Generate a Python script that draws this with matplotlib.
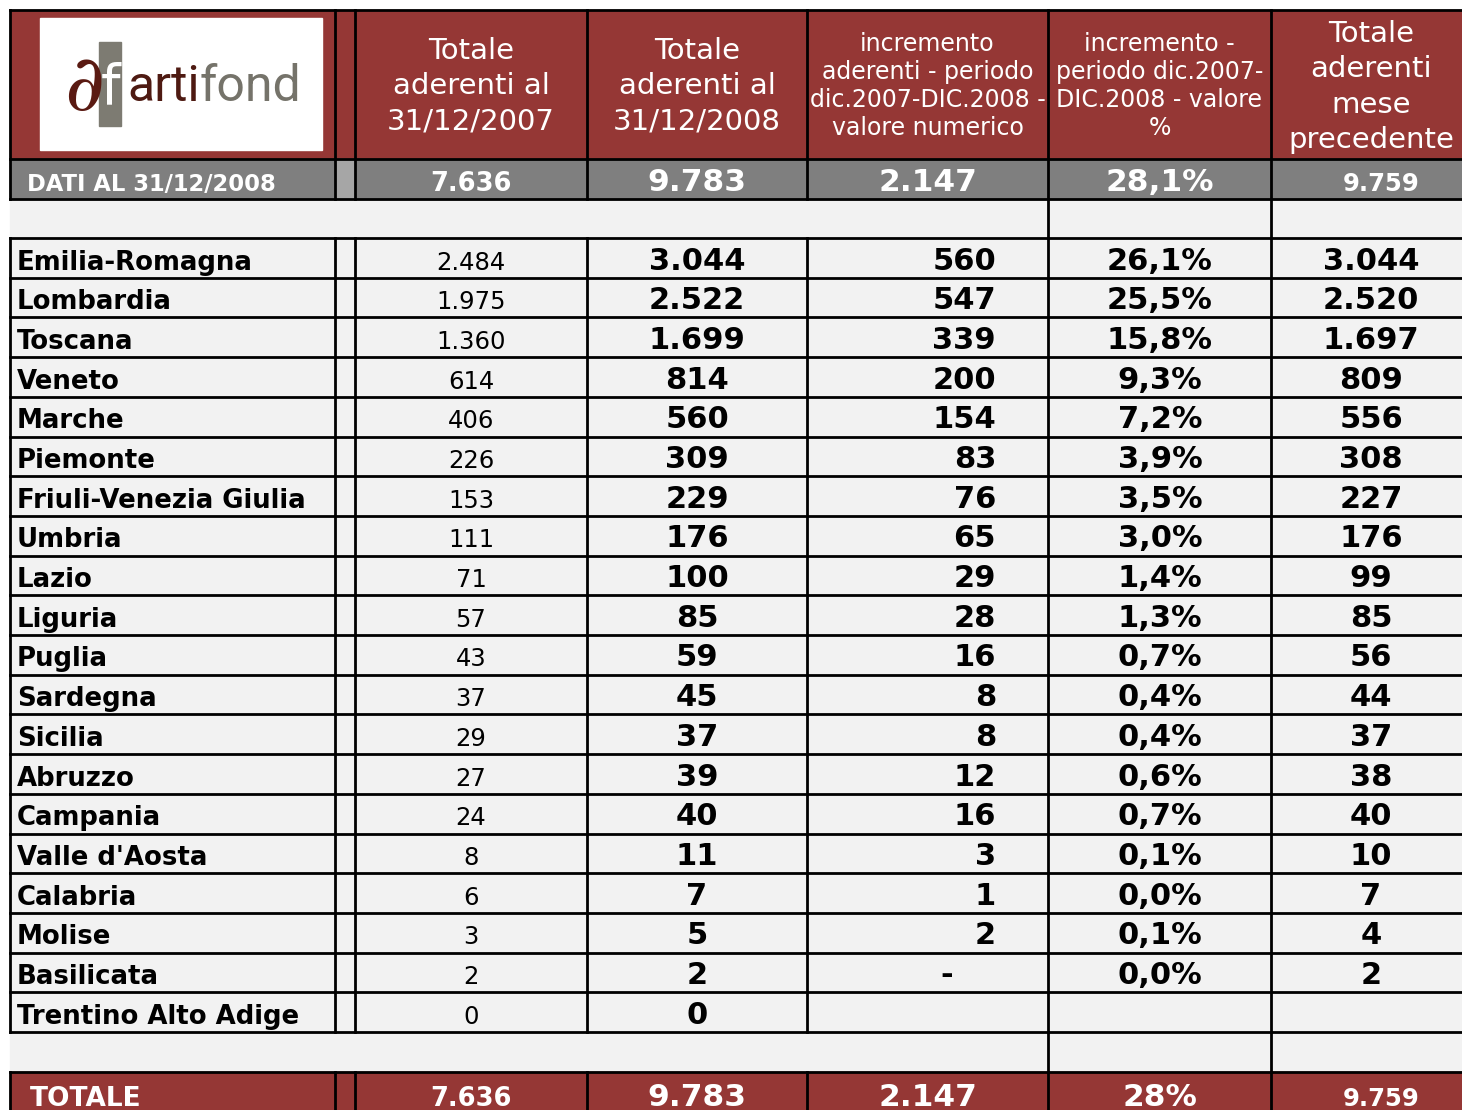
import matplotlib
matplotlib.use('Agg')
import matplotlib.pyplot as plt
from matplotlib.patches import Rectangle

# ---------------- data ----------------
regions = ["Emilia-Romagna", "Lombardia", "Toscana", "Veneto", "Marche", "Piemonte",
           "Friuli-Venezia Giulia", "Umbria", "Lazio", "Liguria", "Puglia", "Sardegna",
           "Sicilia", "Abruzzo", "Campania", "Valle d'Aosta", "Calabria", "Molise",
           "Basilicata", "Trentino Alto Adige"]
aderenti_2007 = [2484, 1975, 1360, 614, 406, 226, 153, 111, 71, 57, 43, 37, 29, 27, 24, 8, 6, 3, 2, 0]
aderenti_2008 = [3044, 2522, 1699, 814, 560, 309, 229, 176, 100, 85, 59, 45, 37, 39, 40, 11, 7, 5, 2, 0]
incremento_num = [560, 547, 339, 200, 154, 83, 76, 65, 29, 28, 16, 8, 8, 12, 16, 3, 1, 2, 0, None]
incremento_pct = [26.1, 25.5, 15.8, 9.3, 7.2, 3.9, 3.5, 3.0, 1.4, 1.3, 0.7, 0.4, 0.4, 0.6, 0.7,
                  0.1, 0.0, 0.1, 0.0, None]
mese_precedente = [3044, 2520, 1697, 809, 556, 308, 227, 176, 99, 85, 56, 44, 37, 38, 40, 10, 7, 4, 2, None]

headers = ["Totale\naderenti al\n31/12/2007",
           "Totale\naderenti al\n31/12/2008",
           "incremento\naderenti - periodo\ndic.2007-DIC.2008 -\nvalore numerico",
           "incremento -\nperiodo dic.2007-\nDIC.2008 - valore\n%",
           "Totale\naderenti\nmese\nprecedente"]
summary_label = "DATI AL 31/12/2008"
summary_values = [7636, 9783, 2147, 28.1, 9759]
total_label = "TOTALE"
total_values = [7636, 9783, 2147, 28, 9759]


def fmt_int(v):
    return f"{v:,}".replace(",", ".")


def fmt_pct(v, dec=1):
    return (f"{v:.{dec}f}%").replace(".", ",")


# ---------------- layout ----------------
W, H = 1462, 1110
fig = plt.figure(figsize=(W / 100, H / 100), dpi=100)
ax = fig.add_axes([0, 0, 1, 1])
ax.set_xlim(0, W)
ax.set_ylim(H, 0)
ax.axis('off')

RED = '#953735'
GRAY = '#7F7F7F'
LGRAY = '#A6A6A6'
BG = '#F2F2F2'
FONT = 'DejaVu Sans'

col_x = [10, 335, 355, 587, 807, 1048, 1271, 1480]
head_top, head_bot = 10, 159
gray_bot = 199
data_top = 238
n = len(regions)
row_h = (1032 - data_top) / n
data_bot = data_top + n * row_h
tot_top = 1072
tot_bot = 1120
LW = 2.0

# backgrounds
ax.add_patch(Rectangle((col_x[0], head_top), col_x[-1] - col_x[0], tot_bot - head_top, color=BG, zorder=0))
ax.add_patch(Rectangle((col_x[0], head_top), col_x[-1] - col_x[0], head_bot - head_top, color=RED, zorder=1))
ax.add_patch(Rectangle((col_x[0], head_bot), col_x[-1] - col_x[0], gray_bot - head_bot, color=GRAY, zorder=1))
ax.add_patch(Rectangle((col_x[1], head_bot), col_x[2] - col_x[1], gray_bot - head_bot, color=LGRAY, zorder=1))
ax.add_patch(Rectangle((col_x[0], tot_top), col_x[-1] - col_x[0], tot_bot - tot_top, color=RED, zorder=1))

# logo
ax.add_patch(Rectangle((40, 18), 282, 132, color='white', zorder=2))
ax.add_patch(Rectangle((99, 42), 22, 84, color='#7d7b72', zorder=3))
ax.text(111, 88, "f", color='white', fontsize=40, fontfamily='DejaVu Sans',
        ha='center', va='center', zorder=4)
ax.text(84, 88, "\u2202", color='#5a1a12', fontsize=56, fontfamily='DejaVu Serif', style='italic',
        ha='center', va='center', zorder=5)
t_arti = ax.text(127, 101, "arti", color='#4e1a12', fontsize=36, fontfamily='Roboto',
                 ha='left', va='baseline', zorder=4)
ax.annotate("fond", xy=(1, 0), xycoords=t_arti, color='#75736a', fontsize=36, fontfamily='Roboto',
            ha='left', va='bottom', zorder=4)


# grid lines
def hline(y, x0=col_x[0], x1=col_x[-1]):
    ax.plot([x0, x1], [y, y], color='black', lw=LW, solid_capstyle='projecting', zorder=6)


def vline(x, y0, y1):
    ax.plot([x, x], [y0, y1], color='black', lw=LW, solid_capstyle='projecting', zorder=6)


hline(head_top)
hline(head_bot)
hline(gray_bot)
for i in range(n + 1):
    hline(data_top + i * row_h)
hline(tot_top)
for x in col_x[:-1]:
    vline(x, head_top, gray_bot)
    vline(x, data_top, data_bot)
    vline(x, tot_top, tot_bot)
for x in (col_x[5], col_x[6]):
    vline(x, gray_bot, data_top)
    vline(x, data_bot, tot_top)

# headers
head_cx = [(col_x[i] + col_x[i + 1]) / 2 for i in range(2, 7)]
head_cx[4] = 1371
head_sizes = [21, 21, 17, 17, 21]
head_ls = [1.32, 1.32, 1.22, 1.22, 1.32]
head_cy = [86, 86, 86, 86, 87]
for j, txt in enumerate(headers):
    t = ax.text(head_cx[j], head_cy[j], txt, color='white', fontsize=head_sizes[j], fontfamily=FONT,
                ha='center', va='center', multialignment='center', linespacing=head_ls[j], zorder=7)
    clip = Rectangle((col_x[j + 2], head_top), col_x[j + 3] - col_x[j + 2], head_bot - head_top,
                     transform=ax.transData)
    t.set_clip_path(clip)

# summary (gray) row
val_cx = [471, 697, 928, 1160, 1381]
sum_sizes = [18.5, 22.5, 22.5, 22.5, 17.5]
ax.text(27, 191, summary_label, color='white', fontsize=16.3, fontweight='bold', fontfamily=FONT,
        ha='left', va='baseline', zorder=7)
for j, v in enumerate(summary_values):
    s = fmt_pct(v) if j == 3 else fmt_int(v)
    ax.text(val_cx[j], 191, s, color='white', fontsize=sum_sizes[j], fontweight='bold', fontfamily=FONT,
            ha='center', va='baseline', zorder=7)

# data rows
BOLD = 22
for i in range(n):
    yb = data_top + i * row_h + 31.5
    ax.text(17, yb, regions[i], fontsize=18.7, fontweight='bold', fontfamily=FONT,
            ha='left', va='baseline', zorder=7)
    ax.text(471, yb, fmt_int(aderenti_2007[i]), fontsize=17.5, fontfamily=FONT,
            ha='center', va='baseline', zorder=7)
    ax.text(697, yb, fmt_int(aderenti_2008[i]), fontsize=BOLD, fontweight='bold', fontfamily=FONT,
            ha='center', va='baseline', zorder=7)
    v = incremento_num[i]
    if v is not None:
        if v == 0:
            ax.text(947, yb, "-", fontsize=BOLD, fontweight='bold', fontfamily=FONT,
                    ha='center', va='baseline', zorder=7)
        else:
            ax.text(996, yb, fmt_int(v), fontsize=BOLD, fontweight='bold', fontfamily=FONT,
                    ha='right', va='baseline', zorder=7)
    p = incremento_pct[i]
    if p is not None:
        ax.text(1160, yb, fmt_pct(p), fontsize=BOLD, fontweight='bold', fontfamily=FONT,
                ha='center', va='baseline', zorder=7)
    m = mese_precedente[i]
    if m is not None:
        ax.text(1371, yb, fmt_int(m), fontsize=BOLD, fontweight='bold', fontfamily=FONT,
                ha='center', va='baseline', zorder=7)

# total row
ax.text(30, 1106, total_label, color='white', fontsize=19, fontweight='bold', fontfamily=FONT,
        ha='left', va='baseline', zorder=7)
for j, v in enumerate(total_values):
    s = fmt_pct(v, 0) if j == 3 else fmt_int(v)
    ax.text(val_cx[j], 1106, s, color='white', fontsize=sum_sizes[j], fontweight='bold', fontfamily=FONT,
            ha='center', va='baseline', zorder=7)

fig.savefig('out.png', dpi=100, facecolor='white')
